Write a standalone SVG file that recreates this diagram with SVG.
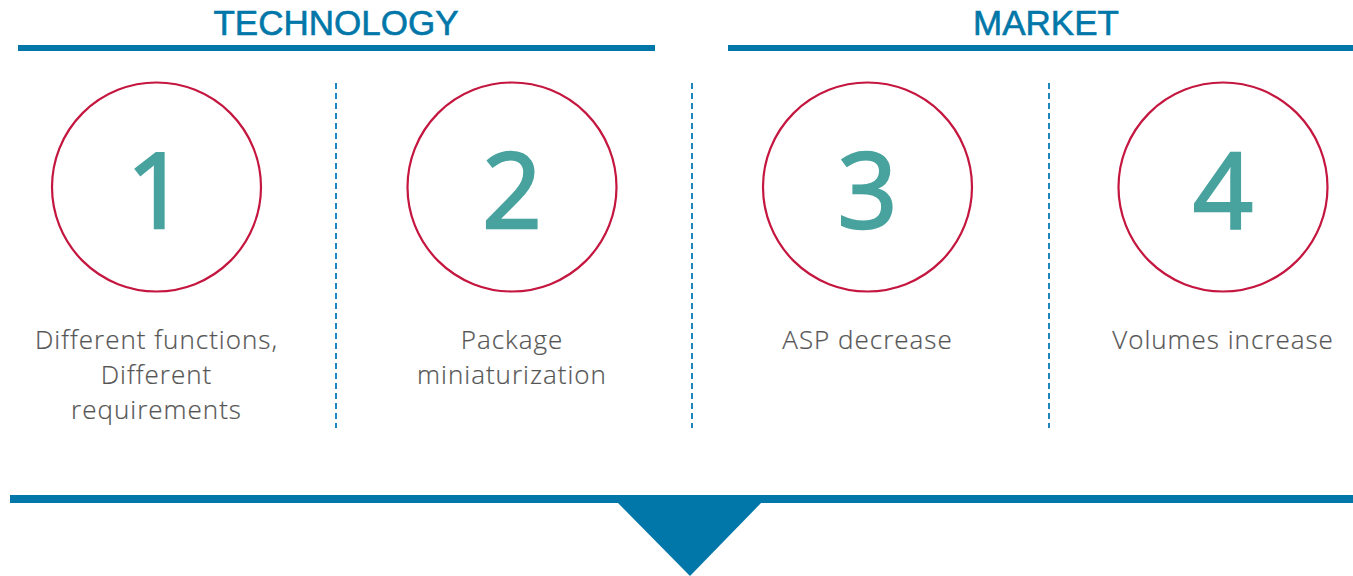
<svg xmlns="http://www.w3.org/2000/svg" width="1353" height="576" viewBox="0 0 1353 576">
<style>
.hdr{font-family:"Liberation Sans",Arial,sans-serif;font-size:35px;fill:#0077A8;stroke:#0077A8;stroke-width:0.6;text-anchor:middle}
.bar{fill:#0077A8}
.ring{fill:none;stroke:#C4163F;stroke-width:2.2}
.num{font-family:"Open Sans",Lato,sans-serif;font-size:105px;fill:#48A29E;stroke:#48A29E;stroke-width:2.5;text-anchor:middle}
.lbl{font-family:"Open Sans",Lato,sans-serif;font-weight:300;font-size:26px;letter-spacing:1px;fill:#555555;stroke:#555555;stroke-width:0.2;text-anchor:middle}
.sep{stroke:#1F86BD;stroke-width:2;stroke-dasharray:6 4}
</style>
<g id="headers">
<text class="hdr" x="336" y="35">TECHNOLOGY</text>
<rect class="bar" x="18" y="45" width="637" height="6"/>
<text class="hdr" x="1046" y="35">MARKET</text>
<rect class="bar" x="728" y="45" width="625" height="6"/>
</g>
<g id="connectors">
<line class="sep" x1="336" y1="83" x2="336" y2="428"/>
<line class="sep" x1="692" y1="83" x2="692" y2="428"/>
<line class="sep" x1="1049" y1="83" x2="1049" y2="428"/>
</g>
<g id="node1">
<circle class="ring" cx="156.5" cy="187" r="104.5"/>
<text class="num" x="156.5" y="228">1</text>
<text class="lbl" x="156.5" y="349">Different functions,</text>
<text class="lbl" x="156.5" y="384">Different</text>
<text class="lbl" x="156.5" y="419">requirements</text>
</g>
<g id="node2">
<circle class="ring" cx="512" cy="187" r="104.5"/>
<text class="num" x="512" y="228">2</text>
<text class="lbl" x="512" y="349">Package</text>
<text class="lbl" x="512" y="384">miniaturization</text>
</g>
<g id="node3">
<circle class="ring" cx="867.5" cy="187" r="104.5"/>
<text class="num" x="867.5" y="228">3</text>
<text class="lbl" x="867.5" y="349">ASP decrease</text>
</g>
<g id="node4">
<circle class="ring" cx="1223" cy="187" r="104.5"/>
<text class="num" x="1223" y="228">4</text>
<text class="lbl" x="1223" y="349">Volumes increase</text>
</g>
<g id="bottom">
<rect class="bar" x="10" y="495" width="1343" height="8"/>
<polygon class="bar" points="617,502 762,502 690,576"/>
</g>
</svg>
